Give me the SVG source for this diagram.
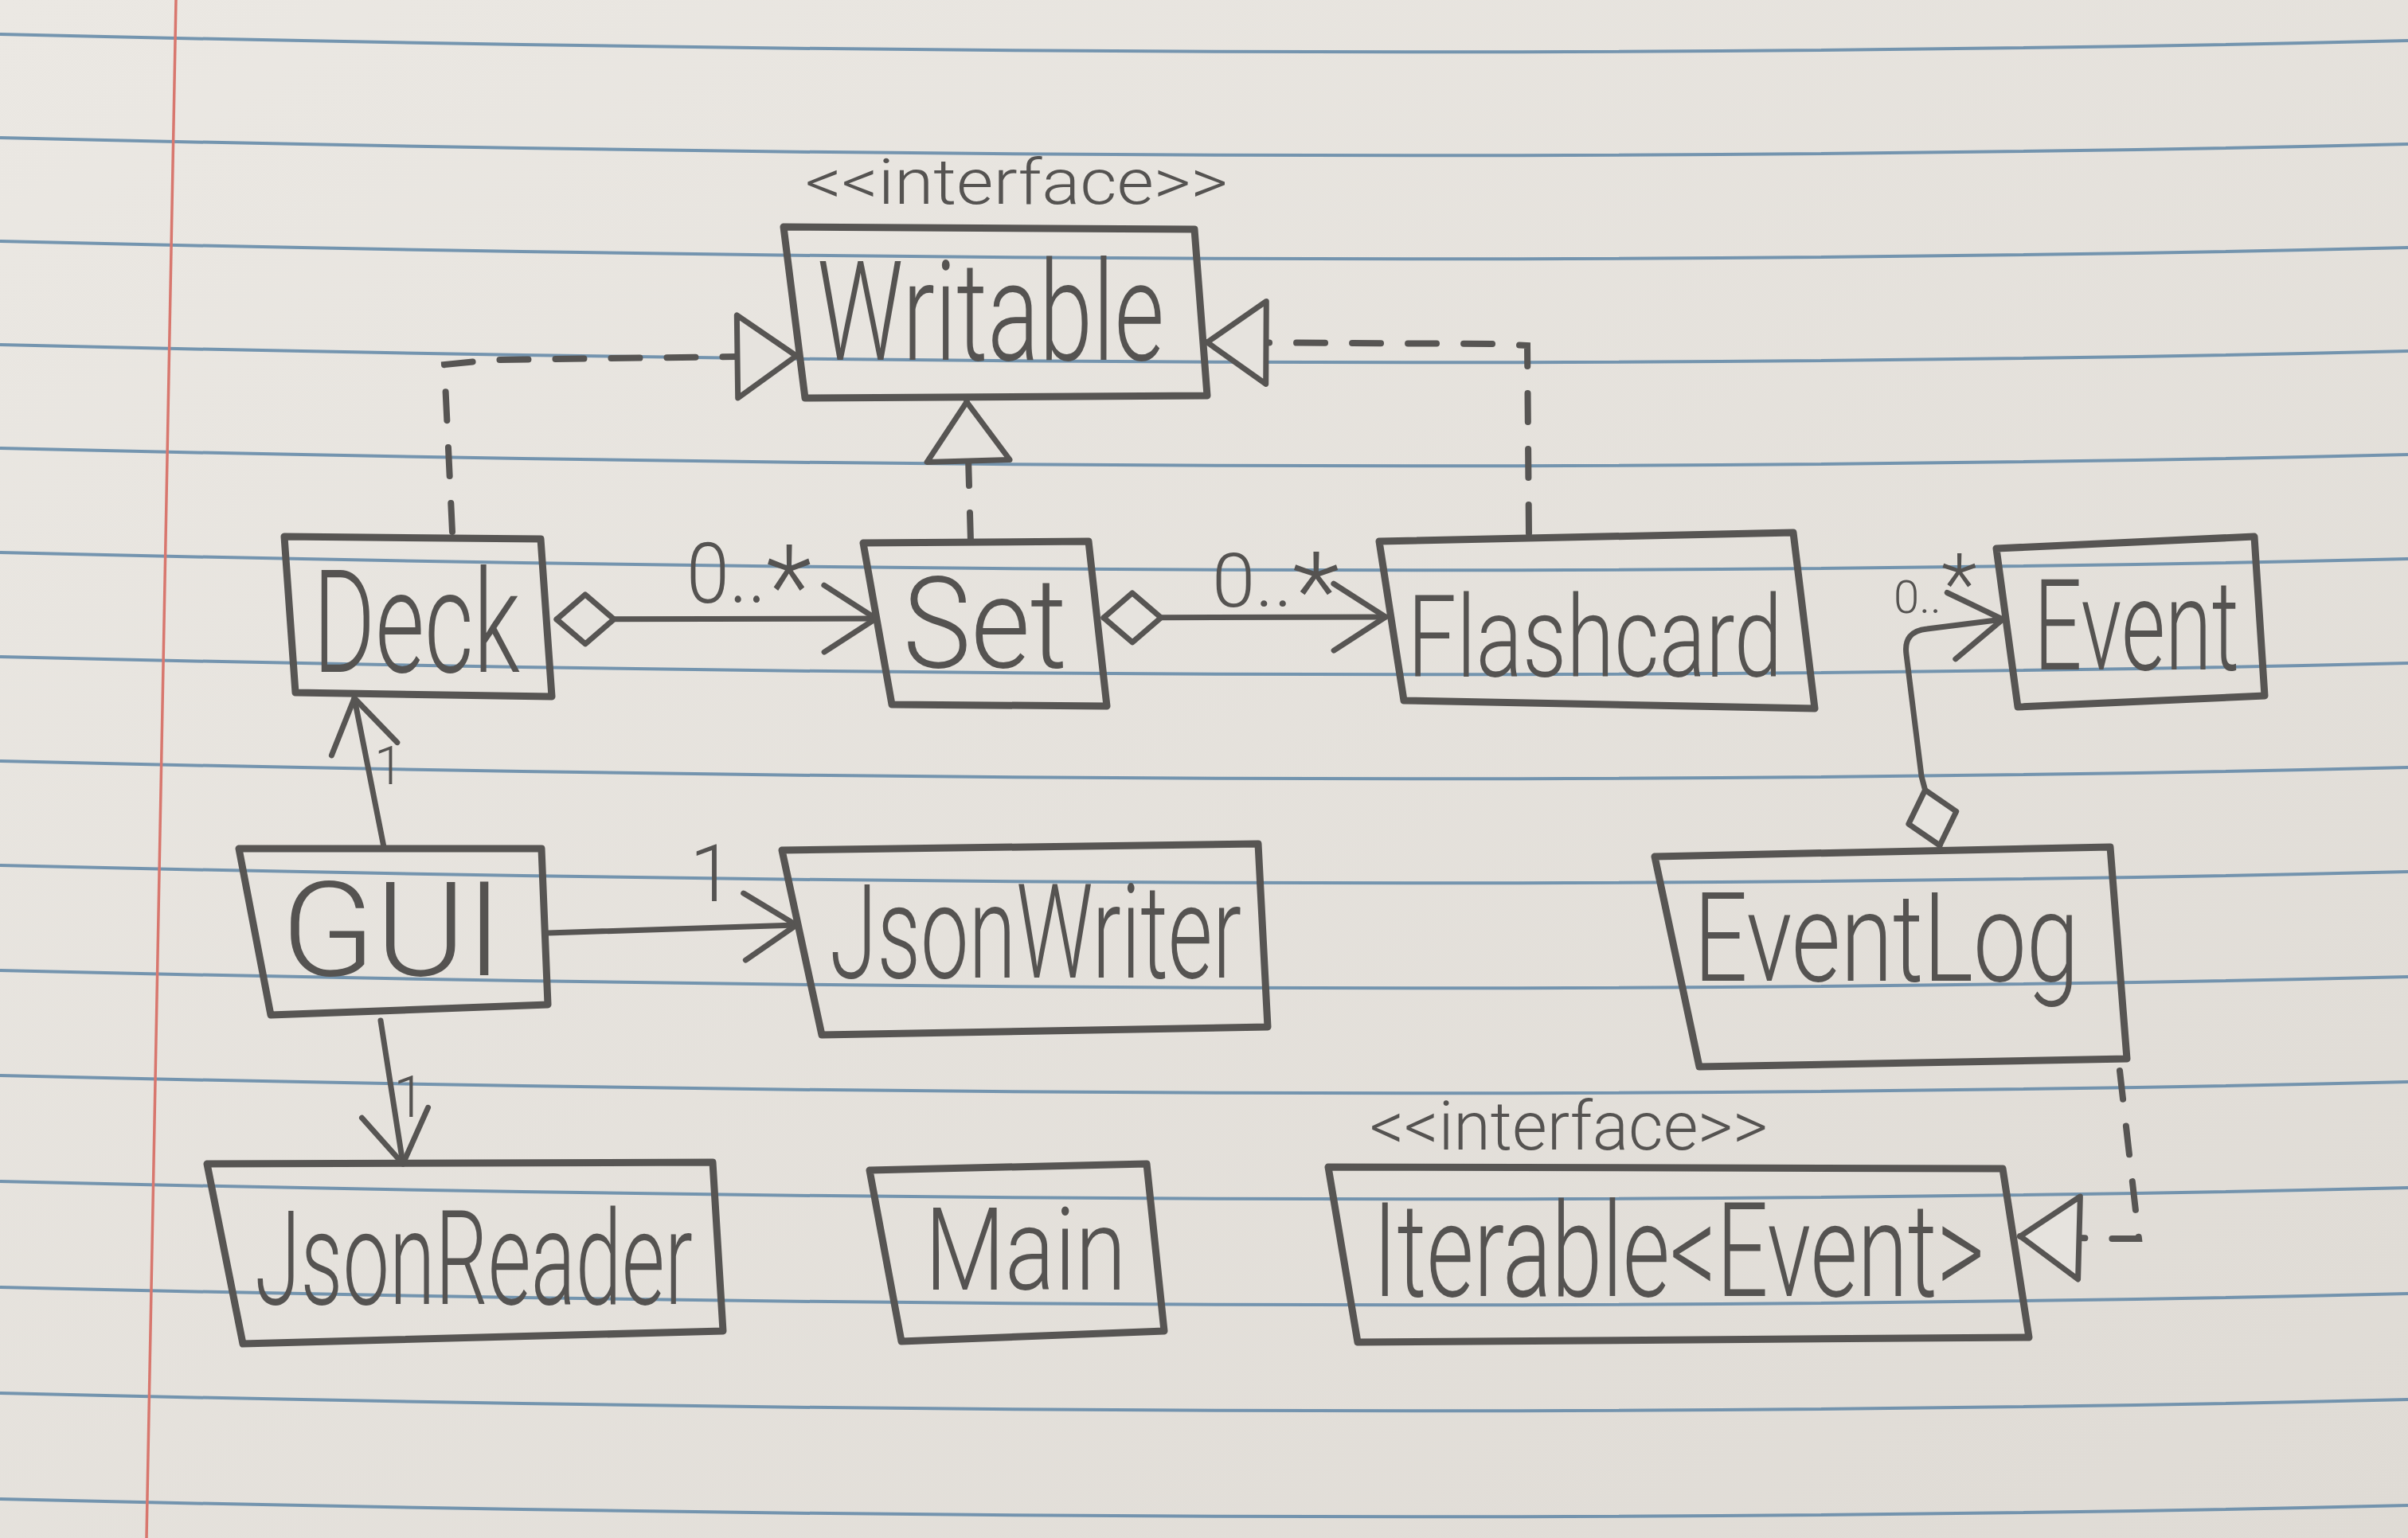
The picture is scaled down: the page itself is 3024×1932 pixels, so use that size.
<svg xmlns="http://www.w3.org/2000/svg" width="3024" height="1932" viewBox="0 0 3024 1932">
<style>
.rule{fill:none;stroke:#5f86a6;stroke-width:4;opacity:.85}
.box{fill:none;stroke:#575553;stroke-width:9;stroke-linejoin:round}
.lbl{font-family:Roboto,"Liberation Sans",sans-serif;font-weight:300;fill:#555351}
.mid{text-anchor:middle}
.solid{fill:none;stroke:#575553;stroke-width:7;stroke-linecap:round;stroke-linejoin:round}
.dash{fill:none;stroke:#575553;stroke-width:8;stroke-dasharray:36 34;stroke-linecap:round}
</style>
<defs>
<linearGradient id="paperg" x1="0" y1="0" x2="1" y2="1">
<stop offset="0" stop-color="#ebe8e3"/>
<stop offset="1" stop-color="#dfdbd5"/>
</linearGradient>
<marker id="open" viewBox="-80 -50 90 100" refX="0" refY="0" markerWidth="90" markerHeight="100" markerUnits="userSpaceOnUse" orient="auto">
<path d="M -65 -42 L 0 0 L -65 42" fill="none" stroke="#575553" stroke-width="7" stroke-linecap="round" stroke-linejoin="round"/>
</marker>
<marker id="tri" viewBox="-90 -65 100 130" refX="0" refY="0" markerWidth="100" markerHeight="130" markerUnits="userSpaceOnUse" orient="auto">
<path d="M 0 0 L -74 -52 L -74 52 Z" fill="#e6e3de" stroke="#575553" stroke-width="7" stroke-linejoin="round"/>
</marker>
<marker id="dia" viewBox="-6 -40 90 80" refX="0" refY="0" markerWidth="90" markerHeight="80" markerUnits="userSpaceOnUse" orient="auto">
<path d="M 0 0 L 36 -31 L 72 0 L 36 31 Z" fill="#e6e3de" stroke="#575553" stroke-width="7" stroke-linejoin="round"/>
</marker>
</defs>
<g id="paper">
<rect x="0" y="0" width="3024" height="1932" fill="url(#paperg)"/>
<path class="rule" d="M 0 43 Q 1700 83 3024 51"/>
<path class="rule" d="M 0 173 Q 1700 213 3024 181"/>
<path class="rule" d="M 0 303 Q 1700 343 3024 311"/>
<path class="rule" d="M 0 433 Q 1700 473 3024 441"/>
<path class="rule" d="M 0 563 Q 1700 603 3024 571"/>
<path class="rule" d="M 0 694 Q 1700 734 3024 702"/>
<path class="rule" d="M 0 825 Q 1700 865 3024 833"/>
<path class="rule" d="M 0 956 Q 1700 996 3024 964"/>
<path class="rule" d="M 0 1087 Q 1700 1127 3024 1095"/>
<path class="rule" d="M 0 1219 Q 1700 1259 3024 1227"/>
<path class="rule" d="M 0 1351 Q 1700 1391 3024 1359"/>
<path class="rule" d="M 0 1484 Q 1700 1524 3024 1492"/>
<path class="rule" d="M 0 1617 Q 1700 1657 3024 1625"/>
<path class="rule" d="M 0 1750 Q 1700 1790 3024 1758"/>
<path class="rule" d="M 0 1883 Q 1700 1923 3024 1891"/>
<line x1="221" y1="0" x2="184" y2="1932" stroke="#d8776e" stroke-width="3.5"/>
</g>
<g id="connectors">
<path class="dash" d="M 568 668 L 558 458 L 620 452 L 1000 447" marker-end="url(#tri)"/>
<path class="dash" d="M 1920 670 L 1918 434 L 1880 432 L 1516 430" marker-end="url(#tri)"/>
<path class="dash" d="M 1219 680 L 1214 505" marker-end="url(#tri)"/>
<path class="dash" d="M 2662 1345 L 2686 1556 L 2650 1556 L 2537 1553" marker-end="url(#tri)"/>
<path class="solid" d="M 699 778 L 1100 777" marker-start="url(#dia)" marker-end="url(#open)"/>
<path class="solid" d="M 1386 776 L 1740 775" marker-start="url(#dia)" marker-end="url(#open)"/>
<path class="solid" d="M 2436 1062 L 2413 975 L 2394 822 Q 2390 793 2420 790 L 2515 778" marker-start="url(#dia)" marker-end="url(#open)"/>
<path class="solid" d="M 482 1064 L 445 877" marker-end="url(#open)"/>
<path class="solid" d="M 688 1172 L 1000 1162" marker-end="url(#open)"/>
<path class="solid" d="M 478 1282 L 506 1462" marker-end="url(#open)"/>
<text class="lbl" x="862" y="757" font-size="105" textLength="157" lengthAdjust="spacingAndGlyphs">0..<tspan font-size="145" dy="30">*</tspan></text>
<text class="lbl" x="1522" y="762" font-size="95" textLength="160" lengthAdjust="spacingAndGlyphs">0..<tspan font-size="135" dy="28">*</tspan></text>
<text class="lbl" x="2378" y="770" font-size="58">0..<tspan font-size="105">*</tspan></text>
<text class="lbl" x="470" y="985" font-size="66">1</text>
<text class="lbl" x="866" y="1132" font-size="100">1</text>
<text class="lbl" x="494" y="1403" font-size="72">1</text>
</g>
<g id="node-writable">
<text class="lbl" x="1011" y="256" font-size="80" textLength="531" lengthAdjust="spacingAndGlyphs">&lt;&lt;interface&gt;&gt;</text>
<polygon class="box" points="984,285 1500,288 1516,497 1011,500"/>
<text class="lbl mid" x="1244" y="452" font-size="175" textLength="436" lengthAdjust="spacingAndGlyphs">Writable</text>
</g>
<g id="node-deck">
<polygon class="box" points="357,674 679,677 693,875 371,870"/>
<text class="lbl mid" x="523" y="844" font-size="180" textLength="260" lengthAdjust="spacingAndGlyphs">Deck</text>
</g>
<g id="node-set">
<polygon class="box" points="1084,682 1367,680 1390,887 1120,885"/>
<text class="lbl mid" x="1237" y="838" font-size="160" textLength="206" lengthAdjust="spacingAndGlyphs">Set</text>
</g>
<g id="node-flashcard">
<polygon class="box" points="1732,680 2252,669 2279,890 1763,880"/>
<text class="lbl mid" x="2003" y="850" font-size="142" textLength="471" lengthAdjust="spacingAndGlyphs">Flashcard</text>
</g>
<g id="node-event">
<polygon class="box" points="2507,689 2831,674 2844,874 2534,888"/>
<text class="lbl mid" x="2683" y="841" font-size="160" textLength="258" lengthAdjust="spacingAndGlyphs">Event</text>
</g>
<g id="node-gui">
<polygon class="box" points="300,1066 680,1066 688,1262 340,1275"/>
<text class="lbl mid" x="492" y="1225" font-size="165" textLength="278" lengthAdjust="spacingAndGlyphs">GUI</text>
</g>
<g id="node-jsonwriter">
<polygon class="box" points="982,1068 1580,1060 1592,1290 1032,1300"/>
<text class="lbl" x="1042" y="1228" font-size="165" textLength="517" lengthAdjust="spacingAndGlyphs">JsonWriter</text>
</g>
<g id="node-eventlog">
<polygon class="box" points="2078,1076 2650,1064 2671,1330 2134,1340"/>
<text class="lbl mid" x="2369" y="1232" font-size="155" textLength="484" lengthAdjust="spacingAndGlyphs">EventLog</text>
</g>
<g id="node-jsonreader">
<polygon class="box" points="260,1462 895,1460 908,1672 305,1688"/>
<text class="lbl mid" x="595" y="1638" font-size="165" textLength="550" lengthAdjust="spacingAndGlyphs">JsonReader</text>
</g>
<g id="node-main">
<polygon class="box" points="1092,1470 1440,1462 1462,1672 1132,1685"/>
<text class="lbl mid" x="1288" y="1620" font-size="145" textLength="253" lengthAdjust="spacingAndGlyphs">Main</text>
</g>
<g id="node-iterable">
<text class="lbl" x="1720" y="1444" font-size="85" textLength="500" lengthAdjust="spacingAndGlyphs">&lt;&lt;interface&gt;&gt;</text>
<polygon class="box" points="1668,1466 2515,1468 2548,1680 1705,1686"/>
<text class="lbl" x="1724" y="1628" font-size="165" textLength="768" lengthAdjust="spacingAndGlyphs">Iterable&lt;Event&gt;</text>
</g>
</svg>
